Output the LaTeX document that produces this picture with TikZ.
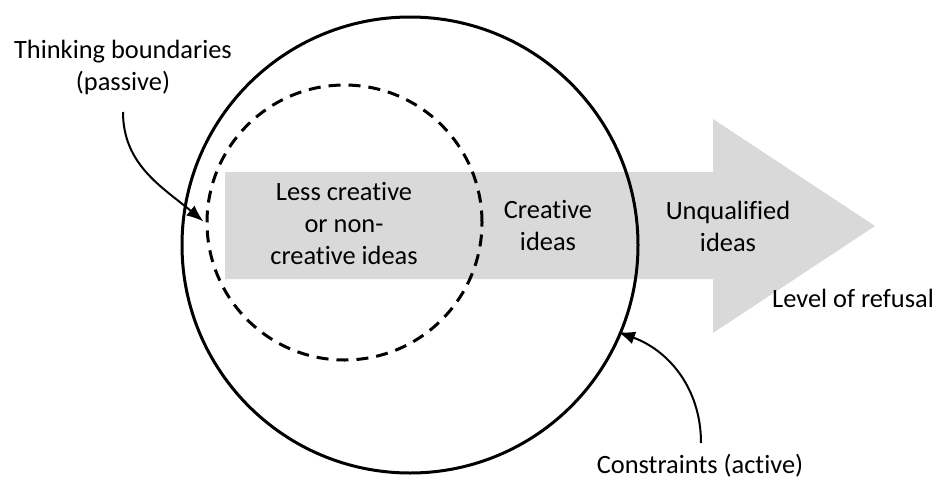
\documentclass[tikz,border=0pt]{standalone}
\usepackage{fontspec}
\setmainfont{Carlito}[Ligatures=NoCommon]
\usetikzlibrary{arrows.meta}
\definecolor{arrowgray}{HTML}{D9D9D9}
\begin{document}
\begin{tikzpicture}[x=1pt,y=1pt,
  lbl/.style={font=\fontsize{26.4}{32}\selectfont, align=center, inner sep=0pt},
  ring/.style={circle, draw=black, line width=3pt, inner sep=0pt},
  pointer/.style={line width=2pt, -{Latex[length=17pt,width=13pt]}}]
\useasboundingbox (0,0) rectangle (939,-482);
% big grey arrow
\fill[arrowgray] (225,-172) -- (713,-172) -- (713,-119) -- (875,-226) -- (713,-333) -- (713,-279) -- (225,-279) -- cycle;
% circles
\node[ring, minimum size=456pt] (outer) at (410,-245) {};
\node[ring, minimum size=275pt, dash pattern=on 12pt off 8pt] (inner) at (344.5,-222.5) {};
% labels
\node[lbl] (tb) at (123,-67) {Thinking boundaries\\(passive)};
\node[lbl] (less) at (344,-224) {Less creative\\or non-\\creative ideas};
\node[lbl] (crea) at (548,-226) {Creative\\ideas};
\node[lbl] (unq) at (728,-226) {Unqualified\\ideas};
\node[lbl] (lev) at (853,-298) {Level of refusal};
\node[lbl] (cons) at (700,-466) {Constraints (active)};
% pointers
\coordinate (tbstart) at (123,-112);
\coordinate (tbtip) at (inner.west);
\coordinate (cstart) at (701,-443);
\coordinate (ctip) at (618,-332);
\draw[pointer] (tbstart) to[out=-90,in=140] ([xshift=-2pt,yshift=1pt]tbtip);
\draw[pointer] (cstart) to[out=90,in=-20] (ctip);
\end{tikzpicture}
\end{document}
